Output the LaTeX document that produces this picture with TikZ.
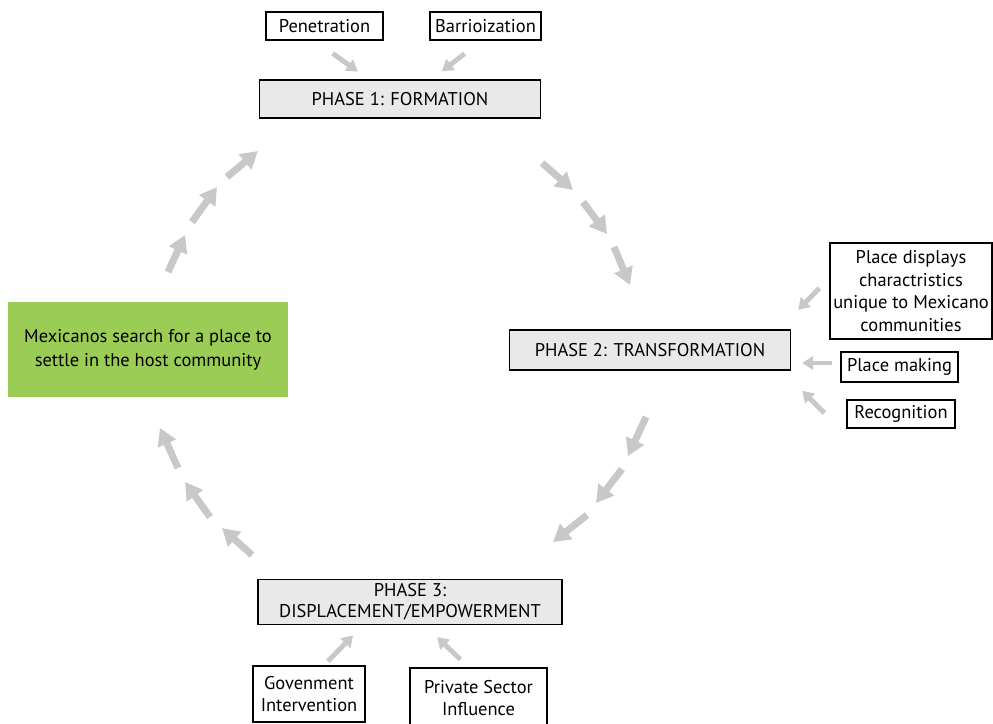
\documentclass[tikz,border=0pt]{standalone}
\usepackage{fontspec}
\setmainfont{PT Sans}
\usetikzlibrary{arrows.meta,calc}
\definecolor{leaf}{RGB}{155,204,85}
\definecolor{flow}{RGB}{200,200,200}
\definecolor{phasefill}{RGB}{233,233,233}

\begin{document}
\begin{tikzpicture}[x=0.02cm,y=-0.02cm,
  phase/.style={draw,fill=phasefill,line width=0.8pt,inner sep=0pt,align=center,
    font=\fontsize{10.5}{12}\selectfont},
  tag/.style={draw,fill=white,line width=0.7pt,inner sep=0pt,align=center,
    font=\fontsize{10.5}{13}\selectfont},
  feed/.style={flow,line width=2.8pt,-{Triangle[length=0.22cm,width=0.27cm]},
    shorten <=0.2cm,shorten >=0.2cm},
  cyc/.style={flow,line width=4pt,-{Triangle[length=0.34cm,width=0.38cm]}}]
 \useasboundingbox (0,0) rectangle (993,723);
 % Phases and the starting point
 \node[phase,minimum width=5.62cm,minimum height=0.76cm] (ph1) at (400,99) {PHASE 1: FORMATION};
 \node[phase,minimum width=5.62cm,minimum height=0.8cm] (ph2) at (650,350) {PHASE 2: TRANSFORMATION};
 \node[phase,minimum width=6.08cm,minimum height=0.9cm] (ph3) at (410,602)
   {PHASE 3:\\DISPLACEMENT/EMPOWERMENT};
 \node[fill=leaf,minimum width=5.6cm,minimum height=1.9cm,inner sep=0pt,align=center,
   font=\fontsize{10.5}{13.5}\selectfont] (start) at (148,349.5)
   {Mexicanos search for a place to\\settle in the host community};
 % Influences
 \node[tag,minimum width=2.34cm,minimum height=0.56cm] (pen) at (324.5,26) {Penetration};
 \node[tag,minimum width=2.22cm,minimum height=0.56cm] (bar) at (485.5,26) {Barrioization};
 \node[tag,minimum width=3.24cm,minimum height=1.92cm] (pd) at (911,291)
   {Place displays\\charactristics\\unique to Mexicano\\communities};
 \node[tag,minimum width=2.34cm,minimum height=0.6cm] (pm) at (899.5,367) {Place making};
 \node[tag,minimum width=2.16cm,minimum height=0.56cm] (rec) at (901,414) {Recognition};
 \node[tag,minimum width=2.24cm,minimum height=1.12cm] (gov) at (309,694)
   {Govenment\\Intervention};
 \node[tag,minimum width=2.74cm,minimum height=1.2cm] (pvt) at (478.5,698)
   {Private Sector\\Influence};
 % Feeder arrows
 \draw[feed] ($(pen.south)+(0,7)$) -- ($(ph1.north)+(-34,-2)$);
 \draw[feed] ($(bar.south)+(-13,7)$) -- ($(ph1.north)+(34,-2)$);
 \draw[feed] ($(pd.west)+(-3,-10)$) -- ($(ph2.east)+(0,-33)$);
 \draw[feed] ($(pm.west)+(2,-4)$) -- ($(ph2.east)+(1,13)$);
 \draw[feed] ($(rec.west)+(-15,6)$) -- ($(ph2.south east)+(4,13)$);
 \draw[feed] ($(gov.north)+(12,3)$) -- ($(ph3.south)+(-50,3)$);
 \draw[feed] ($(pvt.north)+(-11,-1)$) -- ($(ph3.south)+(20,5)$);
 % Cycle arrows
 \foreach \i/\sx/\sy/\ex/\ey in {
   1/542/163/573/190, 2/583/202/607/234, 3/614/247/630/285,
   4/646/417/628/456, 5/622/469/596/503, 6/587/515/553/542,
   7/252/555/222/528, 8/210/517/185/482, 9/178/468/160/428,
   10/168/272/185/235, 11/192/222/217/187, 12/227/177/258/151} {
   \coordinate (cs\i) at (\sx,\sy);
   \coordinate (ce\i) at (\ex,\ey);
   \draw[cyc] (cs\i) -- (ce\i);
 }
\end{tikzpicture}
\end{document}
